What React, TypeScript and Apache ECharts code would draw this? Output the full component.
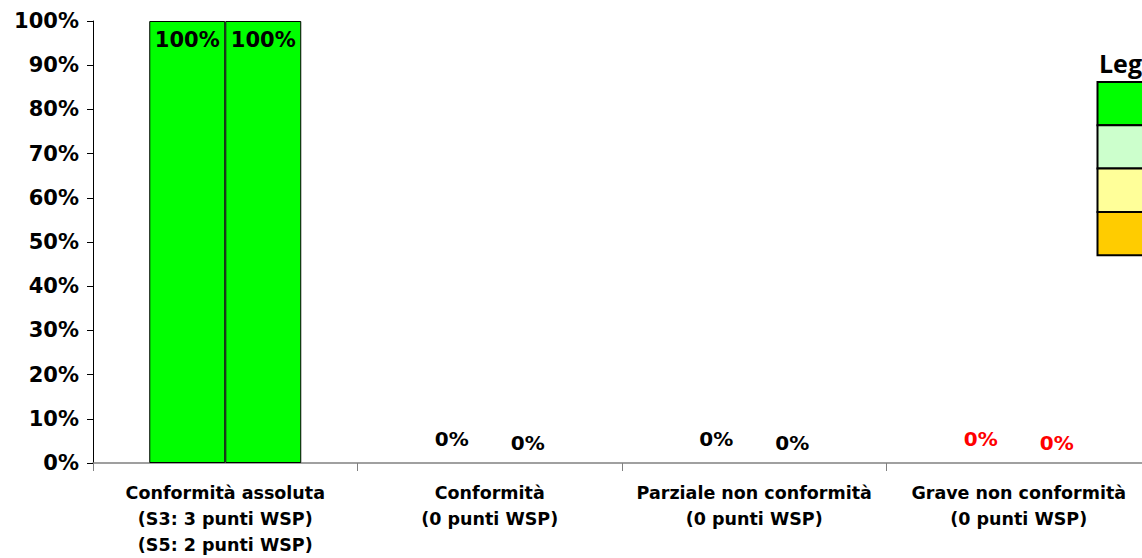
import React, { useEffect, useRef } from "react";
import * as echarts from "echarts";

const categories = [
  "Conformità assoluta\n(S3: 3 punti WSP)\n(S5: 2 punti WSP)",
  "Conformità\n(0 punti WSP)",
  "Parziale non conformità\n(0 punti WSP)",
  "Grave non conformità\n(0 punti WSP)",
];
const seriesS3 = [100, 0, 0, 0];
const seriesS5 = [100, 0, 0, 0];
const labelColors = ["#000000", "#000000", "#000000", "#ff0000"];
const yTicks = [0, 10, 20, 30, 40, 50, 60, 70, 80, 90, 100];
const legendTitle = "Legenda";
const legendColors = ["#00ff00", "#ccffcc", "#ffff99", "#ffcc00"];

const FONT = "'DejaVu Sans', 'Liberation Sans', Arial, sans-serif";

function buildData(values: number[], zeroDist: number) {
  return values.map((v, i) => ({
    value: v,
    itemStyle: v > 0 ? {} : { borderWidth: 0, borderColor: "transparent", color: "transparent" },
    label: {
      color: labelColors[i],
      position: v > 0 ? "insideTop" : "top",
      distance: v > 0 ? 8 : zeroDist,
      fontSize: v > 0 ? 21 : 20,
    },
  }));
}

export default function App() {
  const ref = useRef<HTMLDivElement>(null);
  useEffect(() => {
    if (!ref.current) return;
    const chart = echarts.init(ref.current, undefined, { renderer: "svg" });
    const labelBase = {
      show: true,
      formatter: "{c}%",
      fontFamily: FONT,
      fontWeight: "bold",
      fontSize: 21,
    };
    const cellH = 43.3;
    const legendGraphics: any[] = legendColors.map((c, i) => ({
      type: "rect",
      shape: { x: 1097.5, y: 82 + i * cellH, width: 80, height: cellH },
      style: { fill: c, stroke: "#000", lineWidth: 2 },
    }));
    legendGraphics.push({
      type: "text",
      style: {
        x: 1099,
        y: 50,
        text: legendTitle,
        fontFamily: "'Open Sans', 'Liberation Sans', sans-serif",
        fontWeight: "bold",
        fontSize: 25,
        fill: "#000",
      },
    });
    chart.setOption({
      animation: false,
      backgroundColor: "#ffffff",
      grid: { left: 93, top: 21, width: 1058, height: 443, containLabel: false },
      xAxis: {
        type: "category",
        data: categories,
        axisLine: { lineStyle: { color: "#808080", width: 1.5 } },
        axisTick: { show: true, length: 8, lineStyle: { color: "#808080" } },
        axisLabel: {
          interval: 0,
          margin: 17,
          fontFamily: FONT,
          fontWeight: "bold",
          fontSize: 17.5,
          lineHeight: 26,
          color: "#000",
        },
      },
      yAxis: {
        type: "value",
        min: 0,
        max: 100,
        interval: 10,
        splitLine: { show: false },
        axisLine: { show: true, lineStyle: { color: "#000", width: 1 } },
        axisTick: { show: true, length: 6, lineStyle: { color: "#000" } },
        axisLabel: {
          margin: 14,
          fontFamily: FONT,
          fontWeight: "bold",
          fontSize: 21,
          color: "#000",
          formatter: (v: number) => (yTicks.includes(v) ? v + "%" : ""),
        },
      },
      series: [
        {
          name: "S3",
          type: "bar",
          data: buildData(seriesS3, 14),
          barWidth: 76,
          barGap: "0%",
          itemStyle: { color: "#00ff00", borderColor: "#000", borderWidth: 1 },
          label: labelBase,
        },
        {
          name: "S5",
          type: "bar",
          data: buildData(seriesS5, 10),
          barWidth: 76,
          barGap: "0%",
          itemStyle: { color: "#00ff00", borderColor: "#000", borderWidth: 1 },
          label: labelBase,
        },
      ],
      graphic: legendGraphics,
    });
    return () => chart.dispose();
  }, []);
  return (
    <div
      style={{
        position: "absolute",
        left: 0,
        top: 0,
        width: 1142,
        height: 558,
        overflow: "hidden",
      }}
    >
      <div ref={ref} style={{ width: 1160, height: 558 }} />
    </div>
  );
}
